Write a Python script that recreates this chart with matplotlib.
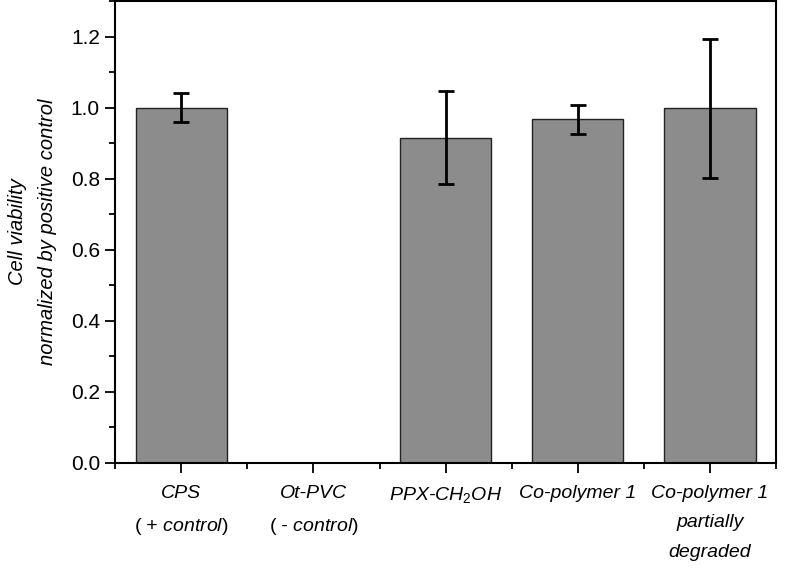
import numpy as np
import matplotlib
matplotlib.use("Agg")
import matplotlib.pyplot as plt
from matplotlib.ticker import MultipleLocator, FixedLocator

# --- data ---
samples = ["CPS\n$\\mathrm{(}$ + control$\\mathrm{)}$",
           "Ot-PVC\n$\\mathrm{(}$ - control$\\mathrm{)}$",
           "PPX-CH$_\\mathrm{2}$OH",
           "Co-polymer 1",
           "Co-polymer 1\npartially\ndegraded"]
viability = [1.0, 0.0, 0.916, 0.967, 0.998]
viability_err = [0.040, 0.0, 0.132, 0.040, 0.195]

plt.rcParams["font.family"] = "Liberation Sans"
plt.rcParams["mathtext.fontset"] = "custom"
plt.rcParams["mathtext.rm"] = "Liberation Sans"
plt.rcParams["mathtext.it"] = "Liberation Sans:italic"

fig = plt.figure(figsize=(8, 5.7), dpi=100)
ax = fig.add_axes([0.144, 0.188, 0.826, 0.81])

pos = np.arange(1, len(samples) + 1)
ax.bar(pos, viability, width=0.69, color="#8c8c8c", edgecolor="#222222", linewidth=1.0)
# no error bar for the empty negative control
mask = np.array(viability_err) > 0
ax.errorbar(pos[mask], np.array(viability)[mask], yerr=np.array(viability_err)[mask],
            fmt="none", ecolor="black", elinewidth=2, capsize=6, capthick=2)

ax.set_xlim(0.5, len(samples) + 0.5)
ax.set_ylim(0, 1.3)
ax.set_xticks(pos)
ax.set_xticklabels(samples, fontsize=14, style="italic", linespacing=1.95)
ax.xaxis.set_minor_locator(FixedLocator(np.arange(0.5, len(samples) + 1, 1.0)))
ax.yaxis.set_major_locator(MultipleLocator(0.2))
ax.yaxis.set_minor_locator(MultipleLocator(0.1))
ax.tick_params(axis="y", labelsize=15)
ax.tick_params(which="major", direction="out", length=7, width=1.3, pad=4)
ax.tick_params(which="minor", direction="out", length=4, width=1.3)
ax.tick_params(axis="x", which="major", pad=9)

for s in ax.spines.values():
    s.set_linewidth(1.5)

ax.set_ylabel("Cell viability\nnormalized by positive control", fontsize=14.5,
              style="italic", linespacing=1.7, labelpad=10)

fig.savefig("out.png", dpi=100)
